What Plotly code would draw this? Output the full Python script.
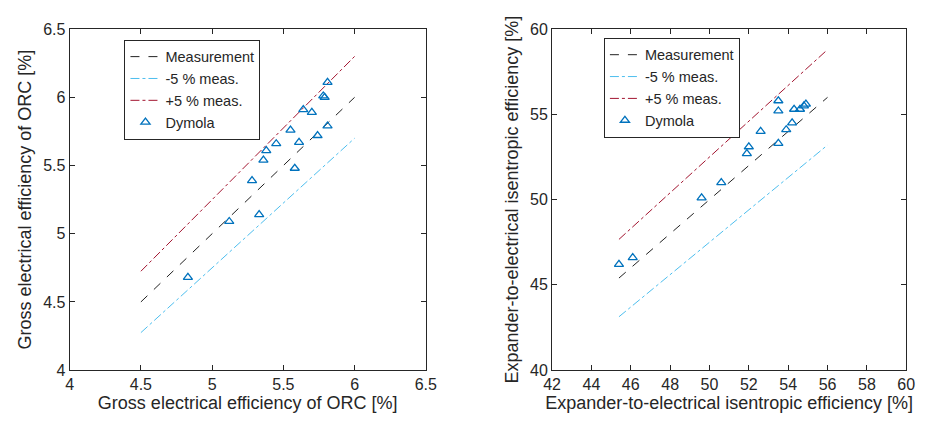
import plotly.graph_objects as go

# ---- Left panel: gross electrical efficiency of ORC [%] ----
orc_line_x = [4.5, 6.0]
orc_meas_y = [4.5, 6.0]
orc_minus5_y = [4.275, 5.7]
orc_plus5_y = [4.725, 6.3]
orc_meas_x = [4.83, 5.12, 5.33, 5.28, 5.36, 5.58, 5.38, 5.45, 5.61, 5.74,
              5.55, 5.81, 5.64, 5.70, 5.78, 5.79, 5.81]
orc_dymola_y = [4.68, 5.09, 5.14, 5.39, 5.54, 5.48, 5.61, 5.66, 5.67, 5.72,
                5.76, 5.79, 5.91, 5.89, 6.01, 6.00, 6.11]

# ---- Right panel: expander-to-electrical isentropic efficiency [%] ----
exp_line_x = [45.4, 56.0]
exp_meas_y = [45.4, 56.0]
exp_minus5_y = [43.13, 53.2]
exp_plus5_y = [47.67, 58.8]
exp_meas_x = [45.4, 46.1, 49.6, 50.6, 51.9, 52.0, 52.6, 53.5, 53.5, 53.5,
              53.9, 54.2, 54.3, 54.6, 54.8, 54.9]
exp_dymola_y = [46.2, 46.6, 50.1, 51.0, 52.7, 53.1, 54.0, 53.3, 55.2, 55.8,
                54.1, 54.5, 55.3, 55.3, 55.5, 55.6]

left_ticks = [4, 4.5, 5, 5.5, 6, 6.5]
right_xticks = [42, 44, 46, 48, 50, 52, 54, 56, 58, 60]
right_yticks = [40, 45, 50, 55, 60]

BLACK = "#262626"
MEAS = "#222222"
CYAN = "#4DBEEE"
RED = "#A2142F"
BLUE = "#0072BD"
FONT = "Liberation Sans, Arial, sans-serif"

W, H = 929, 431

def fx(px):
    return px / W

def fy(py):
    return 1 - py / H

fig = go.Figure()

def add_panel(lx, my, mny, ply, px, py, xa, ya, leg):
    fig.add_trace(go.Scatter(x=lx, y=my, mode="lines", name="Measurement",
                             line=dict(color=MEAS, width=1, dash="dash"),
                             xaxis=xa, yaxis=ya, legend=leg))
    fig.add_trace(go.Scatter(x=lx, y=mny, mode="lines", name="-5 % meas.",
                             line=dict(color=CYAN, width=1, dash="dashdot"),
                             xaxis=xa, yaxis=ya, legend=leg))
    fig.add_trace(go.Scatter(x=lx, y=ply, mode="lines", name="+5 % meas.",
                             line=dict(color=RED, width=1, dash="dashdot"),
                             xaxis=xa, yaxis=ya, legend=leg))
    fig.add_trace(go.Scatter(x=px, y=py, mode="markers", name="Dymola",
                             marker=dict(symbol="triangle-up-open", color=BLUE,
                                         size=8, line=dict(width=1.3, color=BLUE)),
                             xaxis=xa, yaxis=ya, legend=leg))

add_panel(orc_line_x, orc_meas_y, orc_minus5_y, orc_plus5_y,
          orc_meas_x, orc_dymola_y, "x", "y", "legend")
add_panel(exp_line_x, exp_meas_y, exp_minus5_y, exp_plus5_y,
          exp_meas_x, exp_dymola_y, "x2", "y2", "legend2")

axis_common = dict(showline=True, linecolor=BLACK, linewidth=1, mirror="ticks",
                   ticks="inside", ticklen=5, tickcolor=BLACK, showgrid=False,
                   zeroline=False, tickfont=dict(size=16, color=BLACK, family=FONT),
                   title_font=dict(size=18, color=BLACK, family=FONT))

y_dom = [fy(377), fy(22)]

legend_common = dict(xanchor="left", yanchor="top", bgcolor="white",
                     bordercolor=BLACK, borderwidth=1,
                     font=dict(size=14.5, color=BLACK, family=FONT),
                     tracegroupgap=0, itemwidth=30)

fig.update_layout(
    width=W, height=H,
    margin=dict(l=0, r=0, t=0, b=0),
    paper_bgcolor="white", plot_bgcolor="white",
    font=dict(family=FONT, color=BLACK),
    xaxis=dict(domain=[fx(62), fx(426)], range=[4, 6.5], tickvals=left_ticks,
               title=dict(text="Gross electrical efficiency of ORC [%]", standoff=4),
               anchor="y", **axis_common),
    yaxis=dict(domain=y_dom, range=[4, 6.5], tickvals=left_ticks,
               title=dict(text="Gross electrical efficiency of ORC [%]", standoff=6),
               anchor="x", **axis_common),
    xaxis2=dict(domain=[fx(555), fx(917)], range=[42, 60], tickvals=right_xticks,
                title=dict(text="Expander-to-electrical isentropic efficiency [%]", standoff=4),
                anchor="y2", **axis_common),
    yaxis2=dict(domain=y_dom, range=[40, 60], tickvals=right_yticks,
                title=dict(text="Expander-to-electrical isentropic efficiency [%]", standoff=6),
                anchor="x2", **axis_common),
    legend=dict(x=fx(118), y=fy(33), **legend_common),
    legend2=dict(x=fx(608), y=fy(31), **legend_common),
)

# remove the page's default body margin so the figure sits at the window origin
fig.write_html("out.html",
               config={"displayModeBar": False},
               post_script="document.body.style.margin='0';document.body.style.overflow='hidden';")
